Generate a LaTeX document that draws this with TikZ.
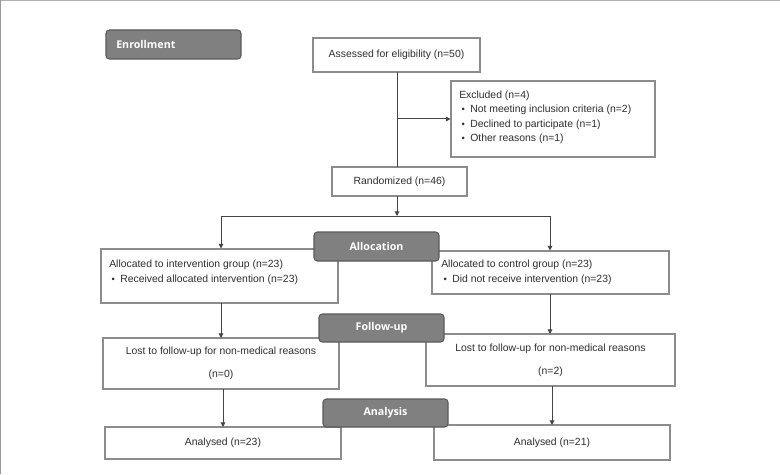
\documentclass[tikz,border=0pt]{standalone}
\usepackage{fontspec}
\setmainfont{Liberation Sans}
\newfontfamily\labfont{Open Sans}
\usetikzlibrary{arrows.meta}
\definecolor{txt}{HTML}{2E2E2E}
\definecolor{boxline}{HTML}{8C8C8C}
\definecolor{conn}{HTML}{444444}
\definecolor{labfill}{HTML}{808080}
\definecolor{labline}{HTML}{5A5A5A}
\newcommand\bul{\hspace*{1.8pt}{\fontsize{7}{7}\selectfont\textbullet}\hspace{4pt}}
\tikzset{
  box/.style={draw=boxline, line width=0.8pt, fill=white, inner sep=0pt, text=txt,
    font=\fontsize{7.8}{10.8}\selectfont},
  btext/.style={inner sep=0pt, text=txt, align=left, anchor=north west,
    font=\fontsize{7.8}{10.8}\selectfont},
  phase/.style={draw=labline, line width=0.8pt, fill=labfill, rounded corners=2.5pt,
    text=white, inner sep=0pt, font=\labfont\bfseries\fontsize{8}{9}\selectfont},
  conn/.style={draw=conn, line width=0.75pt},
  arr/.style={conn, -{Triangle[length=3.5pt,width=3.5pt]}},
}
\begin{document}
\begin{tikzpicture}[x=0.75pt,y=-0.75pt]
\fill[white] (0,0) rectangle (780,474);
\useasboundingbox (0,0) rectangle (780,474);
\draw[gray!60, line width=1pt] (0,0.5) -- (780,0.5);
\draw[gray!80, line width=1pt] (0.5,0) -- (0.5,474);

% main boxes
\node[box, minimum width={167*0.75pt}, minimum height={34*0.75pt}] (assess) at (396.5,55) {Assessed for eligibility (n=50)};
\node[box, minimum width={204*0.75pt}, minimum height={76*0.75pt}] (excl) at (553,119) {};
\node[btext] (exclT) at (459,90.5) {Excluded (n=4)\\
\bul Not meeting inclusion criteria (n=2)\\
\bul Declined to participate (n=1)\\
\bul Other reasons (n=1)};
\node[box, minimum width={135*0.75pt}, minimum height={29*0.75pt}] (rand) at (399.5,181.5) {Randomized (n=46)};

\node[box, minimum width={237*0.75pt}, minimum height={54*0.75pt}] (allocL) at (219.5,276) {};
\node[btext, font=\fontsize{7.8}{11.2}\selectfont] (allocLT) at (109,259.5) {Allocated to intervention group (n=23)\\
\bul Received allocated intervention (n=23)};
\node[box, minimum width={237*0.75pt}, minimum height={43*0.75pt}] (allocR) at (550.5,272.5) {};
\node[btext, font=\fontsize{7.8}{11.2}\selectfont] (allocRT) at (441,259.5) {Allocated to control group (n=23)\\
\bul Did not receive intervention (n=23)};

\node[box, align=center, minimum width={236*0.75pt}, minimum height={51*0.75pt}] (lostL) at (221,363.5) {Lost to follow-up for non-medical reasons\\[6.2pt](n=0)};
\node[box, align=center, minimum width={249*0.75pt}, minimum height={52*0.75pt}] (lostR) at (550.5,360) {Lost to follow-up for non-medical reasons\\[6.2pt](n=2)};

\node[box, minimum width={236*0.75pt}, minimum height={32*0.75pt}] (anL) at (223,443) {Analysed (n=23)};
\node[box, minimum width={236*0.75pt}, minimum height={35*0.75pt}] (anR) at (552,442.5) {Analysed (n=21)};

% connectors
\coordinate (exS) at (397,119);
\coordinate (br) at (397,216);
\coordinate (brL) at (221,216);
\coordinate (brR) at (550,216);
\draw[conn] (397,72) -- (397,167);
\draw[arr] (exS) -- (excl.west |- exS);
\draw[arr] (397,196) -- (br);
\draw[conn] (brL) -- (brR);
\draw[arr] (brL) -- (brL |- allocL.north);
\draw[arr] (brR) -- (brR |- allocR.north);
\draw[arr] (221,303) -- (221,338);
\draw[arr] (550,294) -- (550,334);
\draw[arr] (223,389) -- (223,427);
\draw[arr] (552,386) -- (552,425);

% phase labels
\node[phase, minimum width={135*0.75pt}, minimum height={29*0.75pt}] (enroll) at (173.5,44.5) {};
\node[anchor=west, inner sep=0pt, text=white, font=\labfont\bfseries\fontsize{8}{9}\selectfont] (enrollT) at (116,44.5) {Enrollment};
\node[phase, minimum width={125*0.75pt}, minimum height={29*0.75pt}] (alloc) at (376.5,246.5) {Allocation};
\node[phase, minimum width={125*0.75pt}, minimum height={28*0.75pt}] (follow) at (381.5,328) {Follow-up};
\node[phase, minimum width={125*0.75pt}, minimum height={28*0.75pt}] (analysis) at (385.5,413) {Analysis};
\end{tikzpicture}
\end{document}
